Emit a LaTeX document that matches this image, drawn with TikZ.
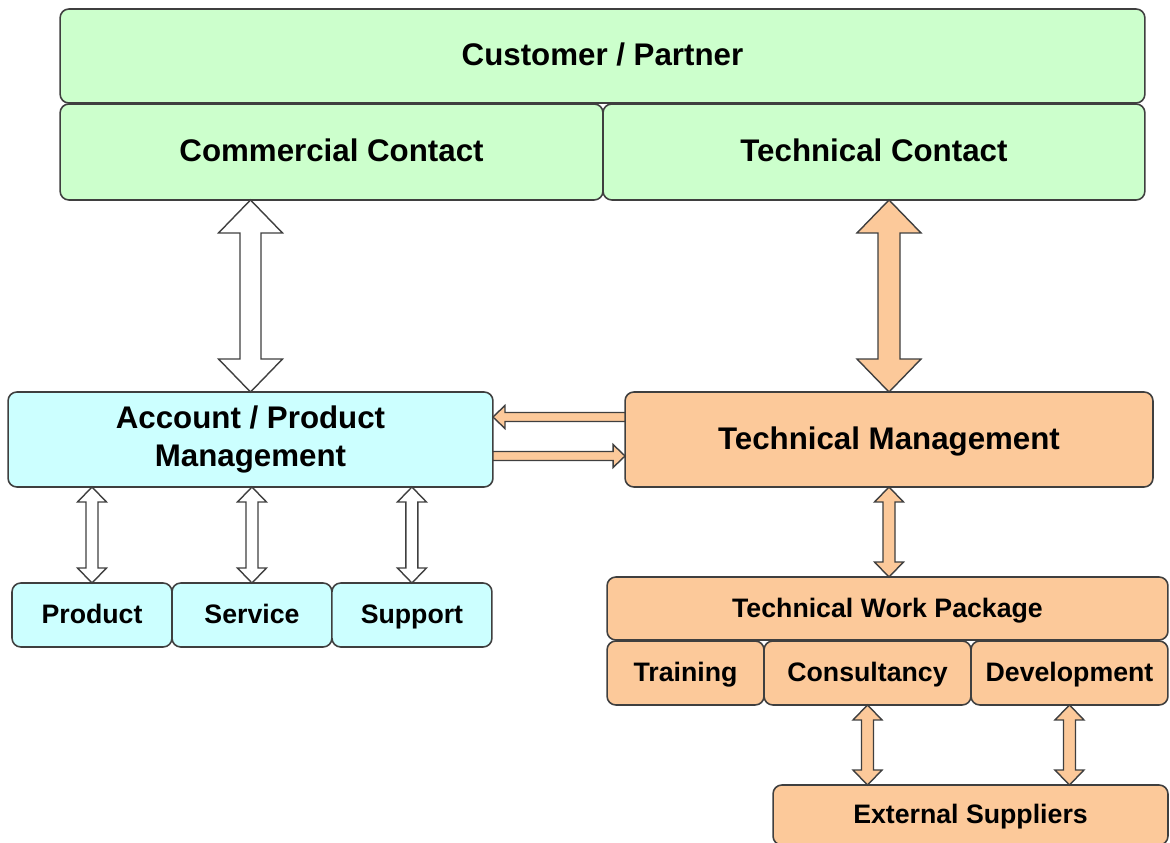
\documentclass[tikz,border=0pt]{standalone}
\usepackage{fontspec}
\setmainfont{Liberation Sans}
\usepackage{xcolor}
\usepackage{tikz}
\usetikzlibrary{positioning}
\usetikzlibrary{calc}

\definecolor{custgreen}{HTML}{CCFFCC}
\definecolor{acccyan}{HTML}{CCFFFF}
\definecolor{techorange}{HTML}{FCC99A}
\definecolor{edge}{HTML}{3F3F3F}

\newcommand{\bigfont}{\fontsize{17.8}{22}\selectfont\bfseries}
\newcommand{\smallfont}{\fontsize{15.2}{18}\selectfont\bfseries}

% block arrow with two heads: [style]{from}{to}{shaft half}{head half}{head length}
\newcommand{\blockarrow}[6][]{%
  \draw[#1] let \p1=(#2), \p2=(#3),
    \n1={veclen(\x2-\x1,\y2-\y1)}, \n2={atan2(\y2-\y1,\x2-\x1)} in
    [shift={(\p1)}, rotate=\n2]
    (0pt,0pt) -- (#6,#5) -- (#6,#4) -- (\n1-#6,#4) -- (\n1-#6,#5) -- (\n1,0pt)
    -- (\n1-#6,-#5) -- (\n1-#6,-#4) -- (#6,-#4) -- (#6,-#5) -- cycle;}

% block arrow with one head at the target
\newcommand{\onearrow}[6][]{%
  \draw[#1] let \p1=(#2), \p2=(#3),
    \n1={veclen(\x2-\x1,\y2-\y1)}, \n2={atan2(\y2-\y1,\x2-\x1)} in
    [shift={(\p1)}, rotate=\n2]
    (0pt,#4) -- (\n1-#6,#4) -- (\n1-#6,#5) -- (\n1,0pt)
    -- (\n1-#6,-#5) -- (\n1-#6,-#4) -- (0pt,-#4) -- cycle;}

\begin{document}
\begin{tikzpicture}[
  x=0.02cm, y=-0.02cm,
  box/.style={draw=edge, line width=0.9pt, rounded corners=5pt, inner sep=0pt, outer sep=0pt, align=center},
  bigline/.style={text height=14pt, text depth=2.7pt},
  smallline/.style={text height=12.5pt, text depth=2.7pt},
  greenbox/.style={box, bigline, fill=custgreen, font=\bigfont},
  cyanbox/.style={box, fill=acccyan, font=\bigfont},
  cyansmall/.style={box, smallline, fill=acccyan, font=\smallfont, minimum width=3.2cm, minimum height=1.28cm},
  orangebox/.style={box, bigline, fill=techorange, font=\bigfont},
  orangesmall/.style={box, smallline, fill=techorange, font=\smallfont, minimum height=1.28cm},
  hollow/.style={draw=edge, line width=0.8pt, fill=white, line join=miter},
  solid/.style={draw=edge, line width=0.8pt, fill=techorange, line join=miter}
]
\useasboundingbox (0,0) rectangle (1170,842);

% Customer / partner block
\node[greenbox, minimum width=21.7cm, minimum height=1.88cm] (cust) at (602.5,56) {Customer / Partner};
\node[greenbox, minimum width=10.86cm, minimum height=1.92cm, below right=0.02cm and 0cm of cust.south west] (comm) {Commercial Contact};
\node[greenbox, minimum width=10.84cm, minimum height=1.92cm, right=0cm of comm] (tech) {Technical Contact};

% Account side
\node[cyanbox, minimum width=9.7cm, minimum height=1.9cm] (apm) at (250.5,439.5) {Account / Product\\Management};
\node[cyansmall] (prod) at (92,615) {Product};
\node[cyansmall, right=0cm of prod] (serv) {Service};
\node[cyansmall, right=0cm of serv] (supp) {Support};

% Technical side
\node[orangebox, minimum width=10.56cm, minimum height=1.9cm] (tm) at (889,439.5) {Technical Management};
\node[orangesmall, minimum width=11.22cm, minimum height=1.26cm] (twp) at (887.5,608.5) {Technical Work Package};
\node[orangesmall, minimum width=3.14cm, below right=0.02cm and 0cm of twp.south west] (train) {Training};
\node[orangesmall, minimum width=4.14cm, right=0cm of train] (cons) {Consultancy};
\node[orangesmall, minimum width=3.94cm, right=0cm of cons] (devel) {Development};
\node[orangesmall, minimum width=7.9cm, minimum height=1.2cm] (ext) at (970.5,815) {External Suppliers};

% Big arrows up to the contacts
\blockarrow[hollow]{apm.north}{apm.north |- comm.south}{0.21cm}{0.64cm}{0.66cm}
\blockarrow[solid]{tm.north}{tm.north |- tech.south}{0.22cm}{0.64cm}{0.66cm}

% Between account and technical management
\onearrow[solid]{$(tm.west)+(0,-22.5)$}{$(apm.east)+(0,-22.5)$}{0.09cm}{0.23cm}{0.24cm}
\onearrow[solid]{$(apm.east)+(0,16.5)$}{$(tm.west)+(0,16.5)$}{0.09cm}{0.23cm}{0.24cm}

% Small arrows
\foreach \bx in {prod,serv,supp}{
  \blockarrow[hollow]{\bx.north}{\bx.north |- apm.south}{0.12cm}{0.29cm}{0.3cm}
}
\blockarrow[solid]{tm.south}{tm.south |- twp.north}{0.12cm}{0.29cm}{0.3cm}
\foreach \bx in {cons,devel}{
  \blockarrow[solid]{\bx.south}{\bx.south |- ext.north}{0.12cm}{0.29cm}{0.3cm}
}

\end{tikzpicture}
\end{document}
